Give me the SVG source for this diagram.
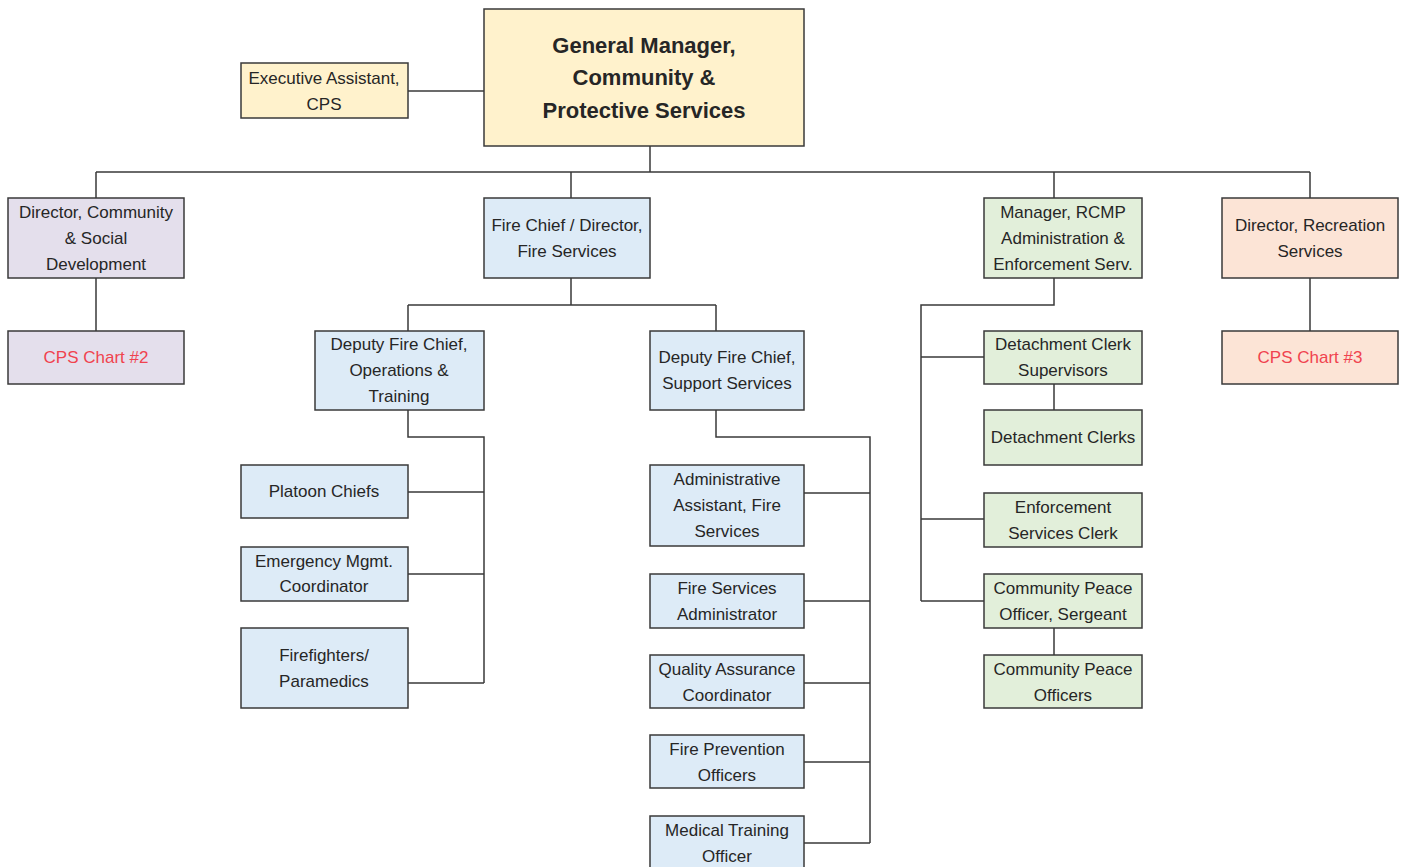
<svg xmlns="http://www.w3.org/2000/svg" width="1408" height="867" viewBox="0 0 1408 867">
<style>
.b{stroke:#3a3a3a;stroke-width:1.5}
.y{fill:#FFF2CC}.p{fill:#E4DFEC}.u{fill:#DDEBF7}.g{fill:#E2EFDA}.o{fill:#FCE4D6}
text{font-family:"Liberation Sans",Arial,sans-serif;font-size:17px;fill:#262626;text-anchor:middle}
.t{font-weight:bold;font-size:22px}
.r{fill:#F0434F}
#connectors path{fill:none;stroke:#3a3a3a;stroke-width:1.5}
</style>
<rect width="1408" height="867" fill="#fff"/>
<g id="connectors">
<path d="M408 91H484"/>
<path d="M650 146V172M96 172H1310M96 172V198M571 172V198M1054 172V198M1310 172V198"/>
<path d="M96 278V331M1310 278V331"/>
<path d="M571 278V305M408 305H716M408 305V331M716 305V331"/>
<path d="M408 410V437H484V683M408 492H484M408 574H484M408 683H484"/>
<path d="M716 410V437H870V843M804 493H870M804 601H870M804 683H870M804 762H870M804 843H870"/>
<path d="M1054 278V305H921V601M921 357H984M921 519H984M921 601H984"/>
<path d="M1054 384V410M1054 628V655"/>
</g>
<g id="gm"><rect class="b y" x="484" y="9" width="320" height="137"/><text class="t" x="644" y="53">General Manager,</text><text class="t" x="644" y="85">Community &amp;</text><text class="t" x="644" y="118">Protective Services</text></g>
<g id="exec"><rect class="b y" x="241" y="63" width="167" height="55"/><text x="324" y="84">Executive Assistant,</text><text x="324" y="110">CPS</text></g>
<g id="dir-csd"><rect class="b p" x="8" y="198" width="176" height="80"/><text x="96" y="218">Director, Community</text><text x="96" y="244">&amp; Social</text><text x="96" y="270">Development</text></g>
<g id="cps2"><rect class="b p" x="8" y="331" width="176" height="53"/><text class="r" x="96" y="363">CPS Chart #2</text></g>
<g id="firechief"><rect class="b u" x="484" y="198" width="166" height="80"/><text x="567" y="231">Fire Chief / Director,</text><text x="567" y="257">Fire Services</text></g>
<g id="rcmp"><rect class="b g" x="984" y="198" width="158" height="80"/><text x="1063" y="218">Manager, RCMP</text><text x="1063" y="244">Administration &amp;</text><text x="1063" y="270">Enforcement Serv.</text></g>
<g id="rec"><rect class="b o" x="1222" y="198" width="176" height="80"/><text x="1310" y="231">Director, Recreation</text><text x="1310" y="257">Services</text></g>
<g id="cps3"><rect class="b o" x="1222" y="331" width="176" height="53"/><text class="r" x="1310" y="363">CPS Chart #3</text></g>
<g id="dep-ops"><rect class="b u" x="315" y="331" width="169" height="79"/><text x="399" y="350">Deputy Fire Chief,</text><text x="399" y="376">Operations &amp;</text><text x="399" y="402">Training</text></g>
<g id="dep-sup"><rect class="b u" x="650" y="331" width="154" height="79"/><text x="727" y="363">Deputy Fire Chief,</text><text x="727" y="389">Support Services</text></g>
<g id="platoon"><rect class="b u" x="241" y="465" width="167" height="53"/><text x="324" y="497">Platoon Chiefs</text></g>
<g id="emerg"><rect class="b u" x="241" y="547" width="167" height="54"/><text x="324" y="567">Emergency Mgmt.</text><text x="324" y="592">Coordinator</text></g>
<g id="ff"><rect class="b u" x="241" y="628" width="167" height="80"/><text x="324" y="661">Firefighters/</text><text x="324" y="687">Paramedics</text></g>
<g id="admin-asst"><rect class="b u" x="650" y="465" width="154" height="81"/><text x="727" y="485">Administrative</text><text x="727" y="511">Assistant, Fire</text><text x="727" y="537">Services</text></g>
<g id="fs-admin"><rect class="b u" x="650" y="574" width="154" height="54"/><text x="727" y="594">Fire Services</text><text x="727" y="620">Administrator</text></g>
<g id="qa"><rect class="b u" x="650" y="655" width="154" height="53"/><text x="727" y="675">Quality Assurance</text><text x="727" y="701">Coordinator</text></g>
<g id="fp"><rect class="b u" x="650" y="735" width="154" height="53"/><text x="727" y="755">Fire Prevention</text><text x="727" y="781">Officers</text></g>
<g id="mto"><rect class="b u" x="650" y="816" width="154" height="52"/><text x="727" y="836">Medical Training</text><text x="727" y="862">Officer</text></g>
<g id="dcs"><rect class="b g" x="984" y="331" width="158" height="53"/><text x="1063" y="350">Detachment Clerk</text><text x="1063" y="376">Supervisors</text></g>
<g id="dc"><rect class="b g" x="984" y="410" width="158" height="55"/><text x="1063" y="443">Detachment Clerks</text></g>
<g id="esc"><rect class="b g" x="984" y="493" width="158" height="54"/><text x="1063" y="513">Enforcement</text><text x="1063" y="539">Services Clerk</text></g>
<g id="cpos"><rect class="b g" x="984" y="574" width="158" height="54"/><text x="1063" y="594">Community Peace</text><text x="1063" y="620">Officer, Sergeant</text></g>
<g id="cpo"><rect class="b g" x="984" y="655" width="158" height="53"/><text x="1063" y="675">Community Peace</text><text x="1063" y="701">Officers</text></g>
</svg>
